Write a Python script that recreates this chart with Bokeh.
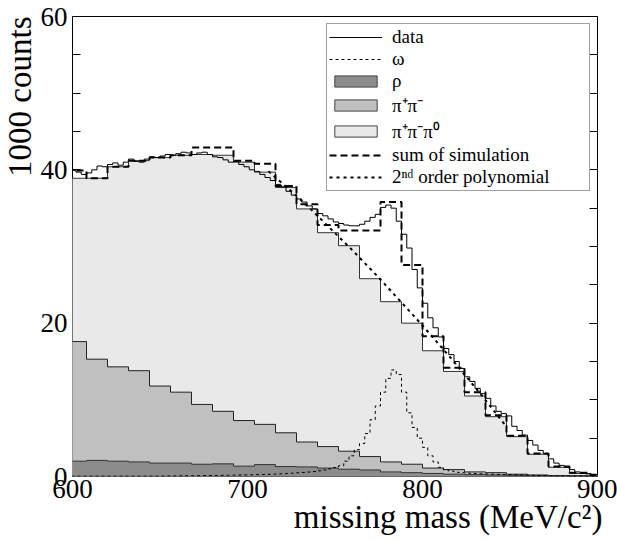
from bokeh.plotting import figure
from bokeh.models import (Range1d, LinearAxis, SingleIntervalTicker, FixedTicker,
                          Legend, LegendItem, Title)
from bokeh.embed import file_html
from bokeh.resources import INLINE

FONT = "'Liberation Serif', serif"

# ---- data ----
# simulation histograms: 12 MeV bins starting at 596 MeV
sim_start = 596
sim_width = 12
stack_total = [38.9, 38.9, 40.4, 41.2, 41.6, 41.9, 42.0, 41.9, 41.0, 39.7, 37.7, 34.9, 31.8,
               30.1, 25.8, 22.8, 20.0, 16.4, 13.7, 10.5, 7.8, 5.2, 2.9, 1.2, 0.4, 0.2]
sum_sim = [39.9, 38.9, 40.4, 41.2, 41.6, 41.9, 42.9, 42.9, 41.2, 40.8, 37.9, 35.5, 32.8,
           32.1, 32.1, 35.8, 27.6, 18.3, 14.2, 11.0, 8.0, 5.3, 3.0, 1.3, 0.5, 0.2]
pipi_stack = [17.6, 15.3, 14.3, 13.8, 11.8, 11.0, 9.4, 8.5, 7.3, 6.8, 5.7, 4.5, 3.9,
              3.3, 2.6, 1.9, 1.6, 1.1, 0.9, 0.6, 0.5, 0.3, 0.2, 0.1, 0.1, 0.05]
rho = [2.0, 2.1, 2.0, 1.9, 1.75, 1.75, 1.6, 1.65, 1.35, 1.55, 1.3, 1.25, 1.1,
       0.95, 0.85, 0.6, 0.5, 0.4, 0.3, 0.25, 0.2, 0.15, 0.1, 0.1, 0.05, 0.05]

# data and omega: 3 MeV bins starting at 596 MeV
data_start = 596
data_width = 3
data_counts = [40.0, 39.9, 39.7, 39.4, 39.6, 40.0, 40.5, 40.4, 40.7, 40.9, 40.6, 41.0, 41.4,
               41.1, 41.0, 41.4, 41.7, 41.6, 41.8, 42.0, 41.9, 42.1, 42.3, 42.2, 42.0, 42.2,
               42.3, 42.0, 41.7, 41.6, 41.3, 41.0, 41.1, 40.7, 40.4,
               40.0, 39.8, 39.4, 39.0, 38.6, 38.1, 37.8, 37.2, 36.7, 36.2, 35.8, 35.3, 34.9,
               34.3, 34.0, 33.6, 33.2, 33.0, 32.8, 32.7, 32.7, 32.9, 33.3, 33.8, 34.2,
               35.1, 35.4, 35.0, 33.3,
               31.6, 29.8, 27.0, 24.6, 22.6, 20.7, 19.4, 18.2, 16.7, 15.9, 15.0, 14.1, 13.0,
               12.4, 11.5, 10.8,
               10.2, 9.2, 8.5, 8.2, 7.9, 6.55, 6.0, 5.4, 4.7, 4.1, 3.4, 3.0, 2.3, 1.75, 1.45,
               1.2, 0.9, 0.6, 0.4, 0.35, 0.3, 0.25, 0.2]
omega = [0.05, 0.05, 0.05, 0.05, 0.05, 0.05, 0.05, 0.05, 0.05, 0.05, 0.05, 0.05, 0.05,
         0.05, 0.05, 0.05, 0.05, 0.05,
         0.06, 0.07, 0.08, 0.08, 0.09, 0.1, 0.1, 0.11, 0.12, 0.13, 0.14, 0.15, 0.16, 0.17,
         0.18, 0.19, 0.2,
         0.22, 0.24, 0.26, 0.28, 0.3, 0.33, 0.36, 0.4, 0.44, 0.48, 0.53, 0.58, 0.64,
         0.75, 0.85, 1.0, 1.15, 1.4, 2.0, 2.7, 3.5, 4.3, 5.6, 7.4, 9.2,
         11.0, 12.8, 13.9, 13.3,
         11.0, 8.3, 6.4, 5.0, 3.8, 2.7, 1.9, 1.2, 0.85, 0.7, 0.55, 0.5, 0.45, 0.4, 0.38, 0.35,
         0.33, 0.3, 0.28, 0.26, 0.24, 0.22, 0.2, 0.18, 0.16, 0.14, 0.12, 0.1, 0.1, 0.09,
         0.08, 0.07, 0.06, 0.05, 0.05, 0.04, 0.04, 0.03, 0.03]

# 2nd order polynomial
poly_x = [712, 720, 728, 736, 744, 752, 760, 768, 776, 784, 792, 800, 808, 816, 824, 832, 840, 848]
poly_y = [39.8, 38.2, 36.6, 34.9, 33.1, 31.3, 29.5, 27.6, 25.7, 23.7, 21.7, 19.7, 17.6,
          15.5, 13.3, 11.1, 8.8, 6.5]

y_tick_step = 20
x_ticks = [600, 700, 800, 900]

# ---- helpers ----
sim_edges = [sim_start + sim_width * i for i in range(len(stack_total) + 1)]
data_edges = [data_start + data_width * i for i in range(len(data_counts) + 1)]


def stepped(vals):
    return list(vals) + [vals[-1]]


C_LIGHT = "#e9e9e9"
C_MID = "#c0c0c0"
C_DARK = "#8c8c8c"

p = figure(width=617, height=541, output_backend="svg", toolbar_location=None,
           x_range=Range1d(600, 900), y_range=Range1d(0, 60),
           min_border_left=72, min_border_right=20, min_border_top=16, min_border_bottom=65)
p.xgrid.visible = False
p.ygrid.visible = False
p.outline_line_color = "black"
p.outline_line_width = 1
p.background_fill_color = "white"
p.border_fill_color = "white"

zeros_sim = [0] * len(sim_edges)

# stacked fills
p.varea_step(x=sim_edges, y1=zeros_sim, y2=stepped(stack_total), step_mode="after",
             fill_color=C_LIGHT)
p.step(x=sim_edges, y=stepped(stack_total), mode="after", line_color="#333333", line_width=1)
p.varea_step(x=sim_edges, y1=zeros_sim, y2=stepped(pipi_stack), step_mode="after",
             fill_color=C_MID)
p.step(x=sim_edges, y=stepped(pipi_stack), mode="after", line_color="#222222", line_width=1)
p.varea_step(x=sim_edges, y1=zeros_sim, y2=stepped(rho), step_mode="after",
             fill_color=C_DARK)
p.step(x=sim_edges, y=stepped(rho), mode="after", line_color="#333333", line_width=1)

# omega (thin dotted)
r_omega = p.step(x=data_edges, y=stepped(omega), mode="after", line_color="black",
                 line_width=1, line_dash="3 3")
# data (thin solid)
r_data = p.step(x=data_edges, y=stepped(data_counts), mode="after", line_color="black",
                line_width=1)
# polynomial (thick dotted)
r_poly = p.line(x=poly_x, y=poly_y, line_color="black", line_width=2, line_dash="3 4")
# sum of simulation (thick dashed)
r_sum = p.step(x=sim_edges, y=stepped(sum_sim), mode="after", line_color="black",
               line_width=2, line_dash="7 4")

# invisible boxes used as legend entries
q_rho = p.quad(left=sim_edges[:-1], right=sim_edges[1:], bottom=0, top=rho,
               fill_color=C_DARK, line_color="#444444", visible=False)
q_pipi = p.quad(left=sim_edges[:-1], right=sim_edges[1:], bottom=0, top=pipi_stack,
                fill_color=C_MID, line_color="#444444", visible=False)
q_3pi = p.quad(left=sim_edges[:-1], right=sim_edges[1:], bottom=0, top=stack_total,
               fill_color=C_LIGHT, line_color="#444444", visible=False)

legend = Legend(items=[
    LegendItem(label="data", renderers=[r_data]),
    LegendItem(label="ω", renderers=[r_omega]),
    LegendItem(label="ρ", renderers=[q_rho]),
    LegendItem(label="π⁺π⁻", renderers=[q_pipi]),
    LegendItem(label="π⁺π⁻π⁰", renderers=[q_3pi]),
    LegendItem(label="sum of simulation", renderers=[r_sum]),
    LegendItem(label="2ⁿᵈ order polynomial", renderers=[r_poly]),
], location="top_right")
legend.margin = 7
legend.padding = 2
legend.spacing = 0
legend.label_height = 21
legend.glyph_height = 14
legend.glyph_width = 53
legend.label_standoff = 10
legend.label_width = 195
legend.label_text_font = FONT
legend.label_text_font_size = "19px"
legend.label_text_color = "black"
legend.border_line_color = "#444444"
legend.border_line_width = 1
legend.background_fill_color = "white"
legend.background_fill_alpha = 1
p.add_layout(legend)


def tick_only(ax):
    ax.ticker = SingleIntervalTicker(interval=y_tick_step, num_minor_ticks=4)
    ax.axis_line_color = None
    ax.major_tick_in = 8
    ax.major_tick_out = 0
    ax.minor_tick_in = 8
    ax.minor_tick_out = 0
    ax.major_label_text_font_size = "1px"
    ax.major_label_text_color = None
    ax.major_label_standoff = 0
    ax.level = "underlay"


# left: inner tick-only axis (under the histograms), then the labelled axis
tick_only(p.yaxis[0])
ylab = LinearAxis(ticker=SingleIntervalTicker(interval=y_tick_step))
ylab.axis_line_color = None
ylab.major_tick_in = 0
ylab.major_tick_out = 0
ylab.minor_tick_in = 0
ylab.minor_tick_out = 0
ylab.major_label_standoff = 5
ylab.major_label_text_font = FONT
ylab.major_label_text_font_size = "27px"
ylab.major_label_text_color = "black"
p.add_layout(ylab, "left")

rax = LinearAxis()
tick_only(rax)
p.add_layout(rax, "right")

xax = p.xaxis[0]
xax.ticker = FixedTicker(ticks=x_ticks)
xax.axis_line_color = None
xax.major_tick_in = 0
xax.major_tick_out = 0
xax.minor_tick_in = 0
xax.minor_tick_out = 0
xax.major_label_standoff = 3
xax.major_label_text_font = FONT
xax.major_label_text_font_size = "27px"
xax.major_label_text_color = "black"

# axis titles, ROOT style: aligned to the far end of each axis
ytitle = Title(text="1000 counts", align="right", text_font=FONT, text_font_size="33px",
               text_font_style="normal", text_color="black", standoff=-1, offset=0)
p.add_layout(ytitle, "left")
xtitle = Title(text="missing mass (MeV/c²)", align="right", text_font=FONT,
               text_font_size="33px", text_font_style="normal", text_color="black",
               standoff=-8, offset=-5)
p.add_layout(xtitle, "below")

open("out.html", "w").write(file_html(p, INLINE))
